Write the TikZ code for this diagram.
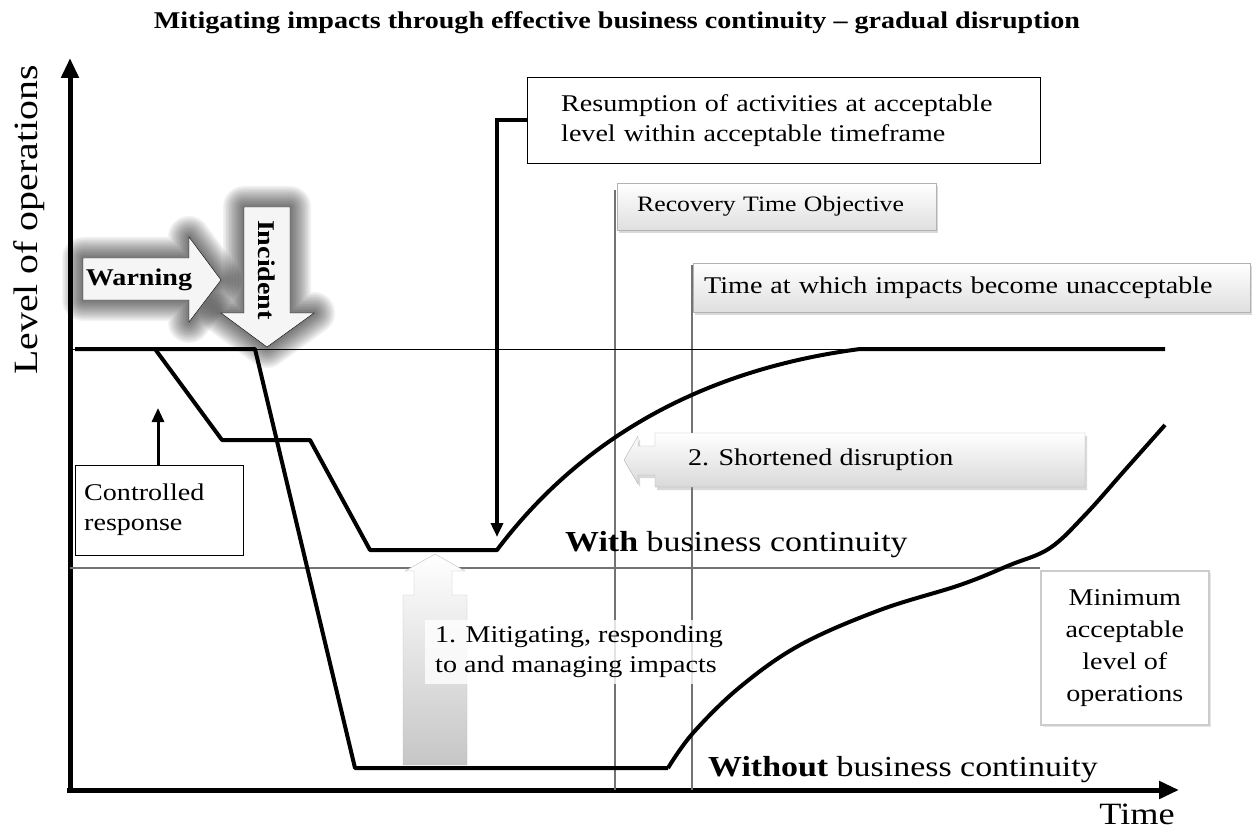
\documentclass[tikz,border=0pt]{standalone}
\usepackage{fontspec}
\setmainfont{Liberation Serif}[FakeStretch=1.17]
\usetikzlibrary{positioning, arrows.meta, shadows}

\begin{document}
\begin{tikzpicture}[x=1pt, y=-1pt,
        txt/.style = {font=\fontsize{24}{30}\selectfont, inner sep=0pt},
        big/.style = {font=\fontsize{29}{34}\selectfont, inner sep=0pt},
        box/.style = {rectangle, draw, thin, fill=white, font=\fontsize{24}{30}\selectfont},
      shbox/.style = {rectangle, draw=gray!60, top color=white, bottom color=gray!25,
                      drop shadow={shadow xshift=2pt, shadow yshift=-3pt, opacity=0.3},
                      font=\fontsize{24}{30}\selectfont, anchor=north west, inner ysep=0pt,
                      align=left},
      curve/.style = {line width=4pt, line join=round},
      level/.style = {line width=2.5pt, gray!90!black},
       axis/.style = {line width=5pt, -{Triangle[length=20pt, width=17pt]}},
       pnt/.style = {line width=3.5pt, -{Triangle[length=14pt, width=12pt]}},
      blockfill/.style = {fill=gray!8, draw=black, thin},
                        ]
\useasboundingbox (0,0) rectangle (1256,837);
% title
\node (title) [txt, font=\fontsize{24}{28}\selectfont\bfseries] at (617,23)
  {Mitigating impacts through effective business continuity -- gradual disruption};
% axes
\coordinate (ytop) at (70,58);
\coordinate (xend) at (1179,790);
\draw[axis] (70,792) -- (ytop);
\draw[axis] (67,790) -- (xend);
\node (ylab) [txt, font=\fontsize{34}{40}\selectfont, rotate=90] at (29,220) {Level of operations};
\node (xlab) [txt, font=\fontsize{31}{36}\selectfont] at (1137,814) {Time};
% time markers
\draw[level, line width=2pt] (615,190) -- (615,790);
\draw[level, line width=2pt] (692,265) -- (692,790);
% minimum acceptable level
\draw[level] (70,568) -- (1040,568);
% normal level
\draw[thin] (70,349) -- (870,349);
% with business continuity
\draw[curve] (75,349) -- (155,349) -- (222,440) -- (310,440) -- (370,550) -- (497,550)
  .. controls (580,440) and (700,370) .. (860,349) -- (1165,349);
% without business continuity
\draw[curve] (155,349) -- (255,349) -- (355,768) -- (668,768)
  plot[smooth, tension=0.6] coordinates {(668,768) (693,733) (740,687) (800,645) (880,610)
  (960,585) (1010,565) (1050,548) (1085,515) (1125,470) (1165,425)};
% warning and incident arrows
\foreach \i in {1,...,14} {
  \draw[line width=3*\i pt, black, opacity=0.05, line join=round]
    (83,258) -- (189,258) -- (189,237) -- (221,280) -- (189,322) -- (189,300) -- (83,300) -- cycle;
  \draw[line width=3*\i pt, black, opacity=0.05, line join=round]
    (244,207) -- (290,207) -- (290,313) -- (314,313) -- (267,347) -- (221,313) -- (244,313) -- cycle;
}
\draw[blockfill] (83,258) -- (189,258) -- (189,237) -- (221,280) -- (189,322) -- (189,300) -- (83,300) -- cycle;
\draw[blockfill] (244,207) -- (290,207) -- (290,313) -- (314,313) -- (267,347) -- (221,313) -- (244,313) -- cycle;
\node (warn) [txt, font=\fontsize{24}{30}\selectfont\bfseries] at (139,280) {Warning};
\node (inc) [txt, font=\fontsize{24}{30}\selectfont\bfseries, rotate=-90] at (267,270) {Incident};
% controlled response
\node (ctrl) [box, anchor=north west, minimum width=168pt, minimum height=90pt,
  align=left, text width=150pt] at (75,465) {Controlled\\response};
\coordinate (ctrlend) at (158,408);
\draw[pnt, line width=3pt] (ctrl.north -| ctrlend) -- (ctrlend);
% resumption
\node (res) [box, anchor=north west, minimum width=513pt, minimum height=86pt,
  align=left, text width=445pt] at (527,77)
  {Resumption of activities at acceptable\\level within acceptable timeframe};
\coordinate (resend) at (497,537);
\draw[pnt] (res.west) -| (resend);
% rto and unacceptable
\node (rto) [shbox, minimum height=47pt, inner xsep=20pt, text width=279pt,
  font=\fontsize{22}{27}\selectfont] at (617,183)
  {Recovery Time Objective};
\node (unacc) [shbox, minimum height=49pt, inner xsep=11pt, text width=535pt] at (693,263)
  {Time at which impacts become unacceptable};
% shortened disruption
\draw[draw=gray!60, top color=white, bottom color=gray!30,
  drop shadow={shadow xshift=2pt, shadow yshift=-3pt, opacity=0.3}]
  (1085,433) -- (655,433) -- (655,446) -- (638,446) -- (638,436) -- (624,460) -- (638,484)
  -- (638,475) -- (655,475) -- (655,487) -- (1085,487) -- cycle;
\node (short) [txt, anchor=west] at (688,460) {2. Shortened disruption};
% mitigating
\draw[draw=gray!50, top color=white, bottom color=gray!45]
  (403,765) -- (403,595) -- (414,595) -- (414,571) -- (405,571) -- (435,554) -- (465,571)
  -- (452,571) -- (452,595) -- (467,595) -- (467,765) -- cycle;
\node (mit) [txt, fill=white, fill opacity=0.8, text opacity=1, align=left,
  inner xsep=10pt, inner ysep=6pt, anchor=west] at (425,652)
  {1. Mitigating, responding\\to and managing impacts};
% curve labels
\node (with) [big, anchor=west] at (565,545) {\textbf{With} business continuity};
\node (without) [big, anchor=west] at (708,770) {\textbf{Without} business continuity};
% minimum acceptable level box
\node (minbox) [rectangle, draw=gray!40, line width=1.5pt, fill=white, anchor=north west,
  minimum width=168pt, minimum height=154pt, align=center,
  drop shadow={shadow xshift=2pt, shadow yshift=-2pt, opacity=0.2},
  font=\fontsize{24}{32}\selectfont] at (1040,570)
  {Minimum\\acceptable\\level of\\operations};
\end{tikzpicture}
\end{document}
